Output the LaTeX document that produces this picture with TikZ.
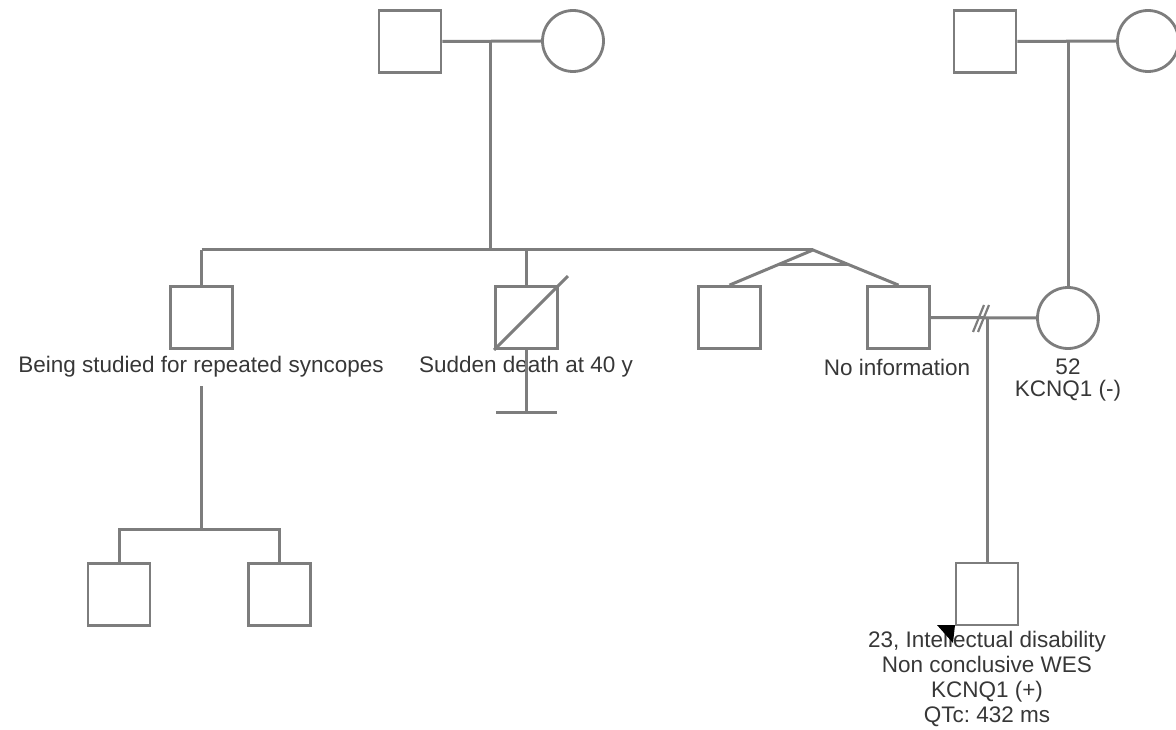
\documentclass[tikz,border=0pt]{standalone}
\usepackage{fontspec}
\setmainfont{Liberation Sans}
\usetikzlibrary{calc}
\definecolor{pline}{RGB}{125,125,125}
\definecolor{ptext}{RGB}{55,55,55}
\frenchspacing
\begin{document}
\begin{tikzpicture}[x=1pt,y=-1pt,
  male/.style={draw=pline, line width=2.8pt, minimum size=62pt, inner sep=0pt, fill=white},
  female/.style={draw=pline, line width=2.8pt, circle, minimum size=61pt, inner sep=0pt, fill=white},
  link/.style={draw=pline, line width=3pt},
  thin link/.style={draw=pline, line width=2.2pt},
  lbl/.style={text=ptext, font=\fontsize{22.5}{25}\selectfont, align=center, inner sep=0pt}]
\useasboundingbox (0,0) rectangle (1176,730);

% generation I
\node[male]   (gf1) at (410,41.5) {};
\node[female] (gm1) at (573,41) {};
\node[male]   (gf2) at (985,41.5) {};
\node[female] (gm2) at (1148,41) {};

% generation II
\node[male] (c1) at (201.5,317.5) {};
\node[male] (c2) at (526.5,317.5) {};
\node[male] (c3) at (729.5,317.5) {};
\node[male] (c4) at (898.5,317.5) {};
\node[female] (sp) at (1068,318) {};

% generation III
\node[male] (g1) at (119,594.5) {};
\node[male] (g2) at (279.5,594.5) {};
\node[male] (pb) at (987,594) {};

% labels
\node[lbl] (l1) at (201,367) {Being studied for repeated syncopes};
\node[lbl] (l2) at (526,367) {Sudden death at 40 y};
\node[lbl] (l4) at (897,367) {No information};
\node[lbl, font=\fontsize{22.5}{21.5}\selectfont] (lsp) at (1068,380) {52\\KCNQ1 (-)};
\node[lbl] (lpb) at (987,679) {23, Intellectual disability\\Non conclusive WES\\KCNQ1 (+)\\QTc: 432 ms};

% marriage and descent lines, generation I
\coordinate (m1) at ($(gf1.east)!0.49!(gm1.west)$);
\coordinate (sib) at (m1 |- 0,250);
\draw[link] (gf1.east) -- (gm1.west);
\draw[link] (m1) -- (sib);
\coordinate (m2) at (1068,41);
\draw[link] (gf2.east) -- (gm2.west);
\draw[link] (m2) -- (sp.north);

% sibship line
\coordinate (sibL) at (c1.north |- sib);
\coordinate (apex) at (813,250);
\draw[link] (sibL) -- (apex);
\draw[link] (sibL) -- (c1.north);
\draw[link] (c2.north |- sib) -- (c2.north);

% monozygotic twins
\draw[link] (c3.north) -- (apex) -- (c4.north);
\draw[link] ($(apex)!0.42!(c3.north)$) -- ($(apex)!0.42!(c4.north)$);

% deceased, no offspring
\draw[link] (c2.south west) -- ($(c2.north east)+(9,-9)$);
\coordinate (noff) at (c2.south |- 0,412);
\draw[link] (c2.south) -- (noff);
\draw[link] ($(noff)+(-30.5,0)$) -- ($(noff)+(30.5,0)$);

% offspring of first son
\coordinate (d1) at (c1.south |- 0,386);
\coordinate (bar) at (c1.south |- 0,529);
\draw[link] (d1) -- (bar);
\draw[link] (g1.north) -- (g1.north |- bar) -- (g2.north |- bar) -- (g2.north);

% separated partners and their son
\draw[link] (c4.east) -- (sp.west);
\coordinate (m3) at (pb.north |- sp.west);
\draw[link] (m3) -- (pb.north);
\draw[thin link] (973,332) -- (984,305);
\draw[thin link] (978,332) -- (989,305);

% pointer arrow
\fill[black] (937,625) -- (955,625) -- (953,643) -- cycle;
\end{tikzpicture}
\end{document}
